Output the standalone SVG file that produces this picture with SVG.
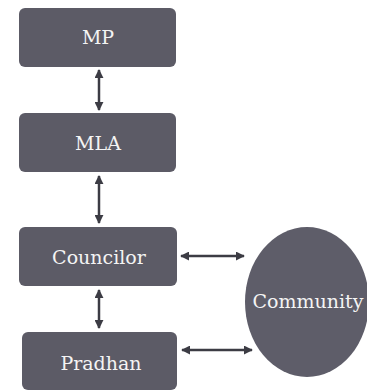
<svg xmlns="http://www.w3.org/2000/svg" width="367" height="390" viewBox="0 0 367 390">
<defs>
<marker id="ah" viewBox="0 0 10 10" refX="9" refY="5" markerWidth="3.6" markerHeight="3.6" orient="auto-start-reverse">
<path d="M0,0 L10,5 L0,10 Z" fill="#3c3c44"/>
</marker>
<style>
.box{fill:#5c5b66;}
.lbl{font-family:"DejaVu Serif",serif;font-size:19px;fill:#f4f4f4;text-anchor:middle;}
.c{stroke:#3c3c44;stroke-width:2.5;fill:none;marker-start:url(#ah);marker-end:url(#ah);}
</style>
</defs>
<rect width="367" height="390" fill="#ffffff"/>
<g id="connectors">
<line class="c" x1="99" y1="70" x2="99" y2="110"/>
<line class="c" x1="99" y1="176" x2="99" y2="223"/>
<line class="c" x1="99" y1="290" x2="99" y2="328"/>
<line class="c" x1="181" y1="256" x2="244" y2="256"/>
<line class="c" x1="182" y1="350" x2="252" y2="350"/>
</g>
<g id="mp"><rect class="box" x="19" y="8" width="157" height="59" rx="6"/><text class="lbl" x="98" y="44">MP</text></g>
<g id="mla"><rect class="box" x="19" y="113" width="157" height="59" rx="6"/><text class="lbl" x="98" y="150">MLA</text></g>
<g id="councilor"><rect class="box" x="19" y="227" width="158" height="59" rx="6"/><text class="lbl" x="99" y="264">Councilor</text></g>
<g id="pradhan"><rect class="box" x="22" y="332" width="155" height="58" rx="6"/><text class="lbl" x="101" y="370">Pradhan</text></g>
<g id="community"><ellipse cx="307" cy="302" rx="62" ry="75" fill="#5e5d69"/><text class="lbl" x="308" y="308">Community</text></g>
</svg>
